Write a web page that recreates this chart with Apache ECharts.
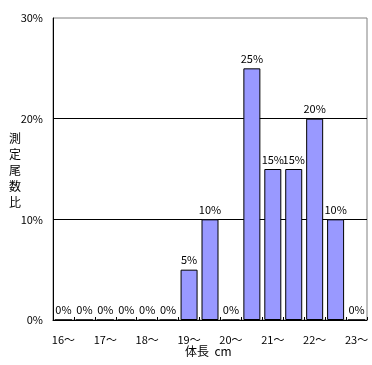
<!DOCTYPE html>
<html><head><meta charset="utf-8">
<script src="https://cdn.jsdelivr.net/npm/echarts@6/dist/echarts.min.js"></script>
<style>html,body{margin:0;padding:0;background:#fff}#c{width:372px;height:365px}</style>
</head><body><div id="c"></div>
<script>
const categories = ['16〜','16.5〜','17〜','17.5〜','18〜','18.5〜','19〜','19.5〜','20〜','20.5〜','21〜','21.5〜','22〜','22.5〜','23〜'];
const values = [0,0,0,0,0,0,5,10,0,25,15,15,20,10,0];
const yTicks = [0,10,20,30];
const yTitle = '測\n定\n尾\n数\n比';
const xTitle = '体長  cm';
const font = '"Noto Sans CJK JP", sans-serif';
const chart = echarts.init(document.getElementById('c'));
chart.setOption({
  animation:false,
  backgroundColor:'#fff',
  grid:{left:53,top:18,right:5,bottom:45,show:true,borderColor:'#808080',borderWidth:1,backgroundColor:'transparent'},
  xAxis:{type:'category',data:categories,boundaryGap:true,
    axisLine:{lineStyle:{color:'#000',width:1}},
    axisTick:{show:true,inside:true,length:3,interval:0,lineStyle:{color:'#000'}},
    axisLabel:{interval:1,margin:14,color:'#000',fontSize:11,fontFamily:font},
    splitLine:{show:false}},
  yAxis:{type:'value',min:yTicks[0],max:yTicks[yTicks.length-1],interval:10,
    axisLine:{show:true,lineStyle:{color:'#000',width:1}},
    axisTick:{show:false},
    axisLabel:{formatter:'{value}%',margin:10,color:'#000',fontSize:11,fontFamily:font},
    splitLine:{show:true,showMaxLine:false,lineStyle:{color:'#000',width:1}}},
  graphic:[
    {type:'text',left:9,top:130,style:{text:yTitle,fontSize:12,lineHeight:16,fill:'#000',fontFamily:font}},
    {type:'text',left:185,top:345,style:{text:xTitle,fontSize:12,fill:'#000',fontFamily:font}}
  ],
  series:[{type:'bar',data:values,barWidth:17,
    itemStyle:{color:'#9999FF',borderColor:'#000',borderWidth:1},
    label:{show:true,position:'top',distance:4,formatter:'{c}%',color:'#000',fontSize:11,fontFamily:font}}]
});
</script></body></html>
